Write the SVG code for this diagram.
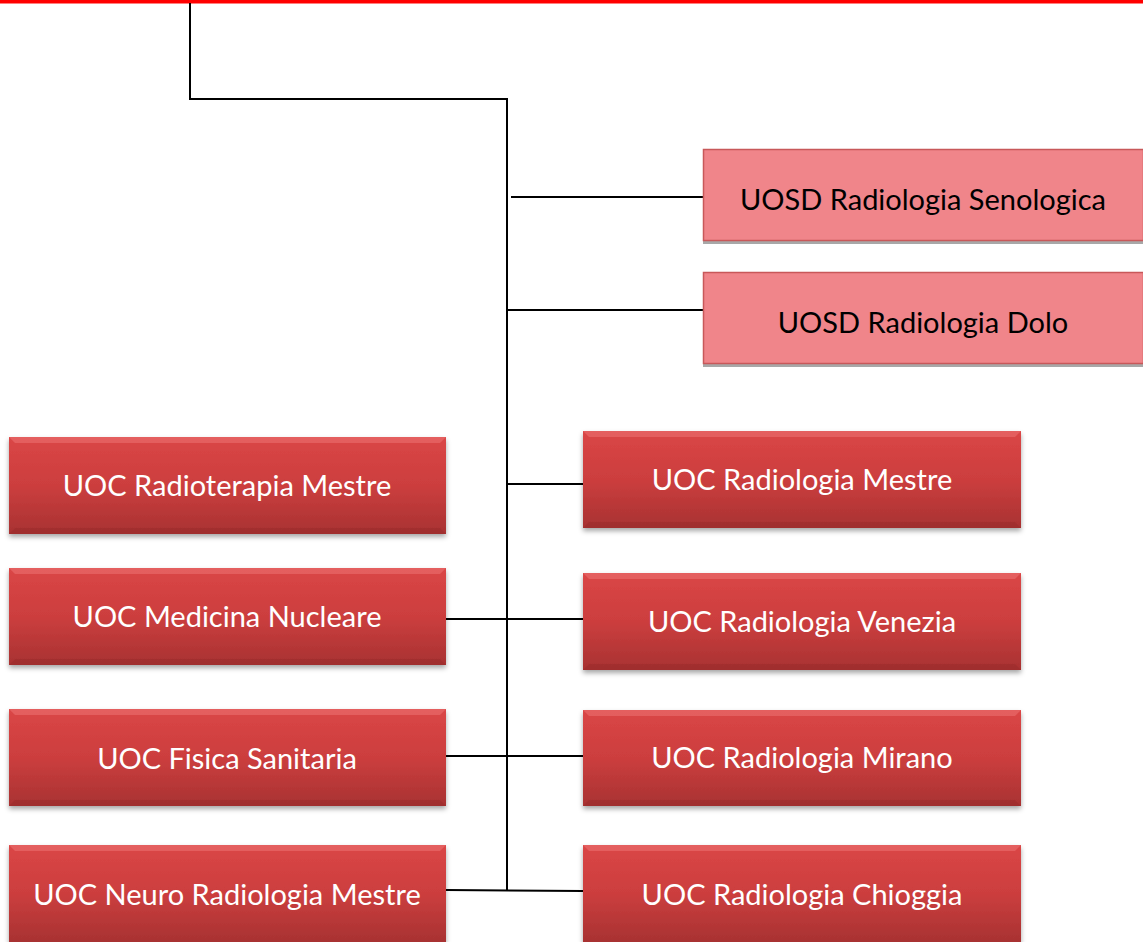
<svg xmlns="http://www.w3.org/2000/svg" width="1143" height="942" viewBox="0 0 1143 942">
<defs>
<linearGradient id="gr" x1="0" y1="0" x2="0" y2="1">
<stop offset="0" stop-color="#DA4646"/>
<stop offset="0.5" stop-color="#CC3E3E"/>
<stop offset="1" stop-color="#A83232"/>
</linearGradient>
<filter id="sh" x="-5%" y="-10%" width="110%" height="130%">
<feDropShadow dx="0" dy="3" stdDeviation="2.5" flood-color="#000" flood-opacity="0.35"/>
</filter>
</defs>
<style>
.dk{fill:url(#gr);filter:url(#sh)}
.bt{fill:#E86A6A;opacity:0.7}
.bb{fill:#8E2828;opacity:0.35}
.pk{fill:#F0858A;stroke:#C8585A;stroke-width:1.5}
.ps{fill:#A8A8A8}
.tw{font-family:Lato,"Liberation Sans",sans-serif;font-size:29px;fill:#FFFFFF;text-anchor:middle}
.tb{font-family:Lato,"Liberation Sans",sans-serif;font-size:29px;fill:#000000;text-anchor:middle}
.ln{stroke:#000;stroke-width:2;fill:none}
</style>
<rect x="0" y="0" width="1143" height="3.5" fill="#FF0000"/>
<g id="connectors">
<polyline class="ln" points="190,3 190,99 507,99 507,891"/>
<line class="ln" x1="511" y1="197" x2="703" y2="197"/>
<line class="ln" x1="507" y1="310" x2="703" y2="310"/>
<line class="ln" x1="507" y1="484" x2="583" y2="484"/>
<line class="ln" x1="446" y1="619" x2="583" y2="619"/>
<line class="ln" x1="446" y1="756" x2="583" y2="756"/>
<line class="ln" x1="446" y1="890" x2="583" y2="891"/>
</g>
<g id="senologica">
<rect class="ps" x="703" y="241" width="440" height="3"/>
<rect class="pk" x="703.5" y="149.5" width="440" height="91"/>
<text class="tb" x="923" y="210">UOSD Radiologia Senologica</text>
</g>
<g id="dolo">
<rect class="ps" x="703" y="364" width="440" height="3"/>
<rect class="pk" x="703.5" y="272.5" width="440" height="91"/>
<text class="tb" x="923" y="333">UOSD Radiologia Dolo</text>
</g>
<g id="radioterapia">
<rect class="dk" x="9" y="437" width="437" height="97"/>
<polygon class="bt" points="9,437 446,437 440,443 15,443"/>
<polygon class="bb" points="9,534 446,534 440,528 15,528"/>
<text class="tw" x="227" y="496">UOC Radioterapia Mestre</text>
</g>
<g id="medicina">
<rect class="dk" x="9" y="568" width="437" height="97"/>
<polygon class="bt" points="9,568 446,568 440,574 15,574"/>
<polygon class="bb" points="9,665 446,665 440,659 15,659"/>
<text class="tw" x="227" y="627">UOC Medicina Nucleare</text>
</g>
<g id="fisica">
<rect class="dk" x="9" y="709" width="437" height="97"/>
<polygon class="bt" points="9,709 446,709 440,715 15,715"/>
<polygon class="bb" points="9,806 446,806 440,800 15,800"/>
<text class="tw" x="227" y="769">UOC Fisica Sanitaria</text>
</g>
<g id="neuro">
<rect class="dk" x="9" y="845" width="437" height="97"/>
<polygon class="bt" points="9,845 446,845 440,851 15,851"/>
<text class="tw" x="227" y="905">UOC Neuro Radiologia Mestre</text>
</g>
<g id="rad-mestre">
<rect class="dk" x="583" y="431" width="438" height="97"/>
<polygon class="bt" points="583,431 1021,431 1015,437 589,437"/>
<polygon class="bb" points="583,528 1021,528 1015,522 589,522"/>
<text class="tw" x="802" y="490">UOC Radiologia Mestre</text>
</g>
<g id="rad-venezia">
<rect class="dk" x="583" y="573" width="438" height="97"/>
<polygon class="bt" points="583,573 1021,573 1015,579 589,579"/>
<polygon class="bb" points="583,670 1021,670 1015,664 589,664"/>
<text class="tw" x="802" y="632">UOC Radiologia Venezia</text>
</g>
<g id="rad-mirano">
<rect class="dk" x="583" y="710" width="438" height="96"/>
<polygon class="bt" points="583,710 1021,710 1015,716 589,716"/>
<polygon class="bb" points="583,806 1021,806 1015,800 589,800"/>
<text class="tw" x="802" y="768">UOC Radiologia Mirano</text>
</g>
<g id="rad-chioggia">
<rect class="dk" x="583" y="845" width="438" height="97"/>
<polygon class="bt" points="583,845 1021,845 1015,851 589,851"/>
<text class="tw" x="802" y="905">UOC Radiologia Chioggia</text>
</g>
</svg>
